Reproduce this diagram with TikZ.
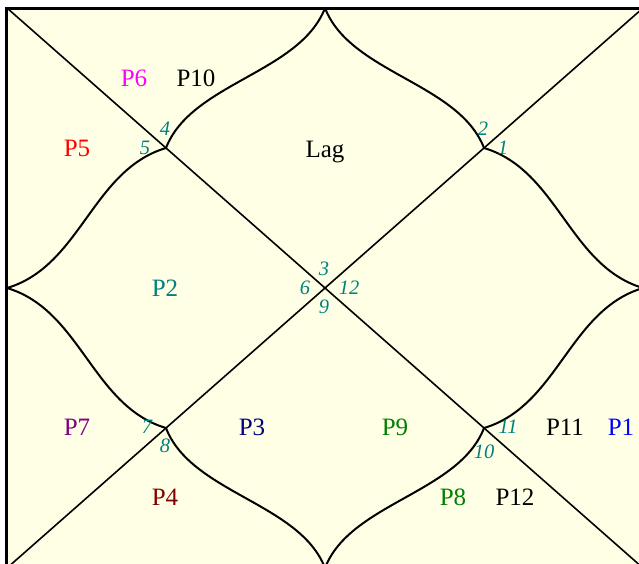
\documentclass[tikz,border=0pt]{standalone}
\usepackage{fontspec}
\setmainfont{Liberation Serif}
\usetikzlibrary{calc}
\definecolor{bgc}{RGB}{255,255,230}
\definecolor{numc}{RGB}{0,128,128}
\definecolor{cmag}{RGB}{255,0,255}
\definecolor{cred}{RGB}{255,0,0}
\definecolor{cteal}{RGB}{0,128,128}
\definecolor{cpurp}{RGB}{128,0,128}
\definecolor{cnavy}{RGB}{0,0,128}
\definecolor{cgreen}{RGB}{0,128,0}
\definecolor{cmaroon}{RGB}{128,0,0}
\definecolor{cblue}{RGB}{0,0,255}
\begin{document}
\begin{tikzpicture}[x=1pt,y=-1pt,
  lbl/.style={font=\fontsize{25}{25}\selectfont, inner sep=0pt},
  num/.style={font=\fontsize{20.5}{20.5}\selectfont\itshape, text=numc, inner sep=0pt},
  curve/.style={line width=2pt},
  diag/.style={line width=1.6pt},
  frame/.style={line width=2.8pt}]
\useasboundingbox (0,0) rectangle (639,563);
% key points
\coordinate (TL) at (7,8);
\coordinate (TR) at (643,8);
\coordinate (BL) at (7,568);
\coordinate (BR) at (643,568);
\coordinate (T) at (325,8);
\coordinate (B) at (325,568);
\coordinate (L) at (7,288);
\coordinate (R) at (643,288);
\coordinate (Q1) at (166,148);
\coordinate (Q2) at (484,148);
\coordinate (Q3) at (166,428);
\coordinate (Q4) at (484,428);
\begin{scope}
\clip (0,0) rectangle (639,563);
\fill[bgc] (6.5,8.5) rectangle (643.5,568);
\draw[diag] (TL) -- (BR);
\draw[diag] (TR) -- (BL);
\draw[curve] (T) .. controls ($(T)+(-25,65)$) and ($(Q1)+(25,-65)$) .. (Q1);
\draw[curve] (T) .. controls ($(T)+(25,65)$) and ($(Q2)+(-25,-65)$) .. (Q2);
\draw[curve] (B) .. controls ($(B)+(-25,-65)$) and ($(Q3)+(25,65)$) .. (Q3);
\draw[curve] (B) .. controls ($(B)+(25,-65)$) and ($(Q4)+(-25,65)$) .. (Q4);
\draw[curve] (L) .. controls ($(L)+(74,-22)$) and ($(Q1)+(-74,22)$) .. (Q1);
\draw[curve] (L) .. controls ($(L)+(74,22)$) and ($(Q3)+(-74,-22)$) .. (Q3);
\draw[curve] (R) .. controls ($(R)+(-74,-22)$) and ($(Q2)+(74,22)$) .. (Q2);
\draw[curve] (R) .. controls ($(R)+(-74,22)$) and ($(Q4)+(74,-22)$) .. (Q4);
\draw[frame] (6.5,8.5) rectangle (643.5,568);
\end{scope}
% planet labels
\node[lbl, text=cmag] (p6) at (134,78) {P6};
\node[lbl] (p10) at (196,78) {P10};
\node[lbl, text=cred] (p5) at (77,148) {P5};
\node[lbl] (lag) at (325,152) {Lag};
\node[lbl, text=cteal] (p2) at (165,288) {P2};
\node[lbl, text=cpurp] (p7) at (77,427) {P7};
\node[lbl, text=cnavy] (p3) at (252,427) {P3};
\node[lbl, text=cgreen] (p9) at (395,427) {P9};
\node[lbl, text=cmaroon] (p4) at (165,497) {P4};
\node[lbl, text=cgreen] (p8) at (453,497) {P8};
\node[lbl] (p12) at (515,497) {P12};
\node[lbl] (p11) at (565,427) {P11};
\node[lbl, text=cblue] (p1) at (621,427) {P1};
% house numbers
\node[num] (n4) at (165,129) {4};
\node[num] (n5) at (145,148) {5};
\node[num] (n2) at (483,129) {2};
\node[num] (n1) at (503,148) {1};
\node[num] (n3) at (324,269) {3};
\node[num] (n6) at (305,288) {6};
\node[num] (n12) at (349,288) {12};
\node[num] (n9) at (324,307) {9};
\node[num] (n7) at (147,427) {7};
\node[num] (n8) at (165,446) {8};
\node[num] (n11) at (508,427) {11};
\node[num] (n10) at (484,452) {10};
\end{tikzpicture}
\end{document}
